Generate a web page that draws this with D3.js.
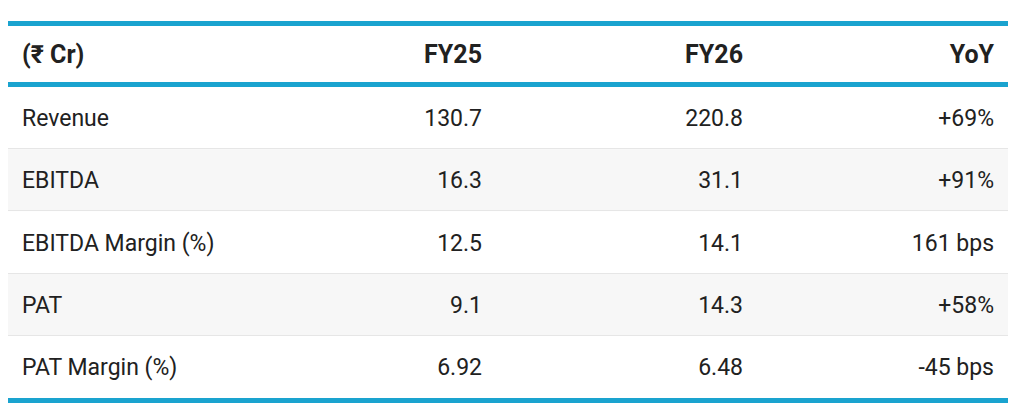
<!DOCTYPE html>
<html>
<head>
<meta charset="utf-8">
<script src="https://cdn.jsdelivr.net/npm/d3@7"></script>
<style>
  body { margin: 0; background: #fff; }
  text { font-family: Roboto, "Noto Sans", sans-serif; fill: #212121; }
</style>
</head>
<body>
<div id="table"></div>
<script>
// table data
const headers = ["(₹ Cr)", "FY25", "FY26", "YoY"];
const metrics = ["Revenue", "EBITDA", "EBITDA Margin (%)", "PAT", "PAT Margin (%)"];
const fy25 = ["130.7", "16.3", "12.5", "9.1", "6.92"];
const fy26 = ["220.8", "31.1", "14.1", "14.3", "6.48"];
const yoy = ["+69%", "+91%", "161 bps", "+58%", "-45 bps"];

const width = 1018, height = 414;
const left = 8, right = 1008;
const blue = "#1aa3cf";

const svg = d3
  .select("#table")
  .append("svg")
  .attr("width", width)
  .attr("height", height);

//row positions
const y = d3.scaleBand().domain(metrics).range([87, 398]);

//text positions for each column (first left aligned, rest right aligned)
const colX = d3.scaleOrdinal().domain(headers).range([22, 482, 743, 994]);

//zebra rows
svg
  .selectAll(".rowBg")
  .data(metrics)
  .enter()
  .append("rect")
  .attr("class", "rowBg")
  .attr("x", left)
  .attr("y", (d) => y(d))
  .attr("width", right - left)
  .attr("height", y.bandwidth())
  .attr("fill", (d, i) => (i % 2 ? "#f7f7f7" : "#fff"));

//row dividers
svg
  .selectAll(".divider")
  .data(metrics.slice(1))
  .enter()
  .append("line")
  .attr("x1", left)
  .attr("x2", right)
  .attr("y1", (d) => Math.round(y(d)) - 0.5)
  .attr("y2", (d) => Math.round(y(d)) - 0.5)
  .attr("stroke", "#e6e6e6")
  .attr("stroke-width", 1);

//blue rules: top, under header, bottom
[[21, 26], [82, 87], [398, 403]].forEach(([a, b]) => {
  svg
    .append("rect")
    .attr("x", left)
    .attr("y", a)
    .attr("width", right - left)
    .attr("height", b - a)
    .attr("fill", blue);
});

//header
svg
  .selectAll(".head")
  .data(headers)
  .enter()
  .append("text")
  .attr("class", "head")
  .attr("x", (d) => colX(d))
  .attr("y", 54)
  .attr("dy", "0.35em")
  .attr("text-anchor", (d, i) => (i ? "end" : "start"))
  .style("font-size", "25px")
  .style("font-weight", "bold")
  .text((d) => d);

//body cells
const columns = [metrics, fy25, fy26, yoy];
columns.forEach((col, c) => {
  svg
    .selectAll(".cell" + c)
    .data(col)
    .enter()
    .append("text")
    .attr("class", "cell" + c)
    .attr("x", colX(headers[c]))
    .attr("y", (d, i) => y(metrics[i]) + y.bandwidth() / 2)
    .attr("dy", "0.35em")
    .attr("text-anchor", c ? "end" : "start")
    .style("font-size", "23px")
    .text((d) => d);
});
</script>
</body>
</html>
